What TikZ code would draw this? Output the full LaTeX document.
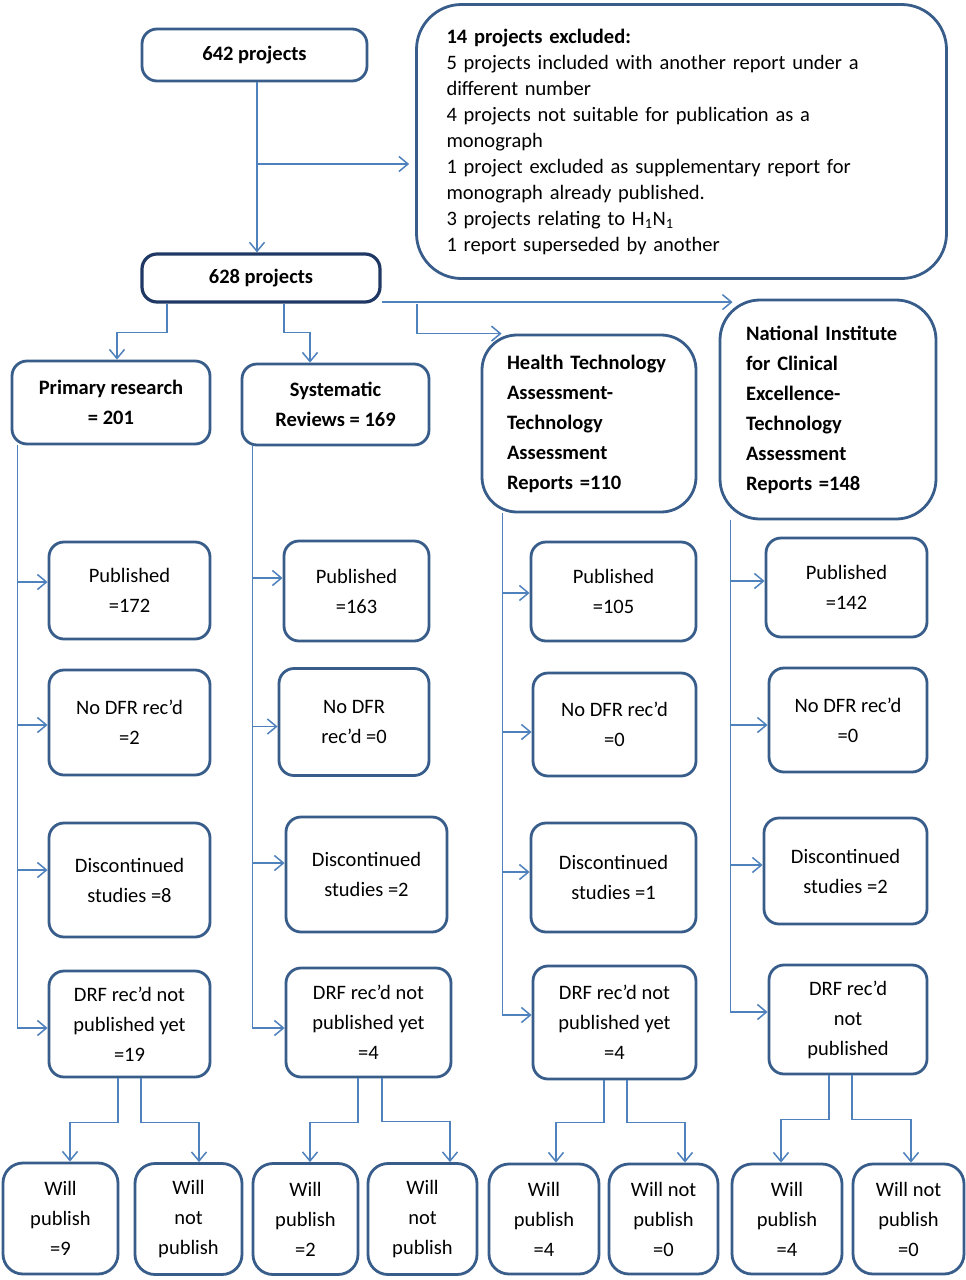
\documentclass[tikz,border=0pt]{standalone}
\usepackage{fontspec}
\setmainfont{Carlito}
\usetikzlibrary{arrows.meta,calc}
\definecolor{bord}{HTML}{385D8A}
\definecolor{lin}{HTML}{4F81BD}
\definecolor{navy}{HTML}{1F3864}
\begin{document}
\begin{tikzpicture}[x=1pt,y=-1pt,
  box/.style={draw=bord, line width=2.8pt, rounded corners=15pt, fill=white, align=center, inner sep=2pt, font=\fontsize{20.5}{30}\selectfont},
  hbox/.style={box, font=\bfseries\fontsize{20.5}{29.5}\selectfont},
  bbox/.style={box, rounded corners=20pt},
  line/.style={draw=lin, line width=1.5pt},
  arr/.style={line, -{Straight Barb[length=9pt,width=15pt]}},
]
\useasboundingbox[fill=white] (0,0) rectangle (966,1280);

% top
\node[hbox, minimum width=225pt, minimum height=52pt] (p642) at (254.5,55) {642 projects};
\node[hbox, draw=navy, line width=3.2pt, minimum width=238pt, minimum height=48pt] (p628) at (261,278) {628 projects};
\node[box, rounded corners=45pt, minimum width=530pt, minimum height=274pt, text width=470pt, align=left,
      font=\fontsize{20.5}{26}\selectfont] (exc) at (681.5,141.5)
 {\textbf{14 projects excluded:}\\
  5 projects included with another report under a\\
  different number\\
  4 projects not suitable for publication as a\\
  monograph\\
  1 project excluded as supplementary report for\\
  monograph already published.\\
  3 projects relating to H\textsubscript{1}N\textsubscript{1}\\
  1 report superseded by another};

% headers
\node[hbox, minimum width=198pt, minimum height=83pt] (pr) at (111,402.5) {Primary research\\= 201};
\node[hbox, minimum width=187pt, minimum height=81pt] (sr) at (335.5,404.5) {Systematic\\Reviews = 169};
\node[hbox, rounded corners=35pt, align=left, text width=164pt, minimum width=214pt, minimum height=177pt, font=\bfseries\fontsize{20.5}{30}\selectfont] (hta) at (589,423.5)
 {Health Technology\\Assessment-\\Technology\\Assessment\\Reports =110};
\node[hbox, rounded corners=40pt, align=left, text width=164pt, minimum width=216pt, minimum height=219pt, font=\bfseries\fontsize{20.5}{30}\selectfont] (nice) at (828,409.5)
 {National Institute\\for Clinical\\Excellence-\\Technology\\Assessment\\Reports =148};

% column 1
\node[box, minimum width=161pt, minimum height=97pt]  (pub1) at (129.5,590.5) {Published\\=172};
\node[box, minimum width=161pt, minimum height=105pt] (nod1) at (129.5,722.5) {No DFR rec’d\\=2};
\node[box, minimum width=161pt, minimum height=114pt] (dis1) at (129.5,880) {Discontinued\\studies =8};
\node[box, minimum width=161pt, minimum height=106pt] (drf1) at (129.5,1024) {DRF rec’d not\\published yet\\=19};
% column 2
\node[box, minimum width=145pt, minimum height=100pt] (pub2) at (356.5,591) {Published\\=163};
\node[box, minimum width=150pt, minimum height=107pt] (nod2) at (354,722) {No DFR\\rec’d =0};
\node[box, minimum width=161pt, minimum height=115pt] (dis2) at (366.5,874.5) {Discontinued\\studies =2};
\node[box, minimum width=165pt, minimum height=109pt] (drf2) at (368.5,1022.5) {DRF rec’d not\\published yet\\=4};
% column 3
\node[box, minimum width=165pt, minimum height=99pt]  (pub3) at (613.5,591.5) {Published\\=105};
\node[box, minimum width=163pt, minimum height=103pt] (nod3) at (614.5,724.5) {No DFR rec’d\\=0};
\node[box, minimum width=165pt, minimum height=109pt] (dis3) at (613.5,877.5) {Discontinued\\studies =1};
\node[box, minimum width=163pt, minimum height=113pt] (drf3) at (614.5,1022.5) {DRF rec’d not\\published yet\\=4};
% column 4
\node[box, minimum width=161pt, minimum height=99pt]  (pub4) at (846.5,587.5) {Published\\=142};
\node[box, minimum width=158pt, minimum height=104pt] (nod4) at (848,720) {No DFR rec’d\\=0};
\node[box, minimum width=163pt, minimum height=106pt] (dis4) at (845.5,871) {Discontinued\\studies =2};
\node[box, minimum width=158pt, minimum height=109pt] (drf4) at (848,1019.5) {DRF rec’d\\not\\published};

% bottom row
\node[bbox, minimum width=115pt, minimum height=111pt] (wp1)  at (60.5,1218.5) {Will\\publish\\=9};
\node[bbox, minimum width=107pt, minimum height=111pt] (wnp1) at (188.5,1219) {Will\\not\\publish};
\node[bbox, minimum width=105pt, minimum height=111pt] (wp2)  at (305.5,1219) {Will\\publish\\=2};
\node[bbox, minimum width=109pt, minimum height=111pt] (wnp2) at (422.5,1219) {Will\\not\\publish};
\node[bbox, minimum width=110pt, minimum height=110pt] (wp3)  at (544,1219) {Will\\publish\\=4};
\node[bbox, minimum width=109pt, minimum height=110pt] (wnp3) at (663.5,1219) {Will not\\publish\\=0};
\node[bbox, minimum width=110pt, minimum height=110pt] (wp4)  at (787,1219) {Will\\publish\\=4};
\node[bbox, minimum width=111pt, minimum height=110pt] (wnp4) at (908.5,1219) {Will not\\publish\\=0};

% top connectors
\draw[arr] ([xshift=2.5pt]p642.south) -- ([xshift=2.5pt]p642.south |- p628.north);
\coordinate (j1) at (257,164);
\draw[arr, shorten >=6pt] (j1) -- (j1 -| exc.west);
\draw[arr] ([xshift=-94pt]p628.south) -- ++(0,29) -| ([xshift=6pt]pr.north);
\draw[arr] ([xshift=23pt]p628.south) -- ++(0,29) -| ([xshift=-25.5pt]sr.north);
\draw[arr] ([xshift=156pt]p628.south) |- ([xshift=21pt]hta.north west);
\coordinate (c628) at ([yshift=1.5pt]p628.south east);
\draw[arr] (c628) -- ($(c628 -| nice.west)+(14,0)$);

% column connectors
\draw[arr] ([xshift=7pt]pr.south west) |- ([yshift=8.5pt]pub1.west);
\draw[arr] ([xshift=7pt]pr.south west) |- ([yshift=-2.5pt]nod1.west);
\draw[arr] ([xshift=7pt]pr.south west) |- ([yshift=10pt]dis1.west);
\draw[arr] ([xshift=7pt]pr.south west) |- ([yshift=-4pt]drf1.west);

\draw[arr] ([xshift=12pt]sr.south west) |- ([yshift=13pt]pub2.west);
\draw[arr] ([xshift=12pt]sr.south west) |- ([yshift=-4.5pt]nod2.west);
\draw[arr] ([xshift=12pt]sr.south west) |- ([yshift=11.5pt]dis2.west);
\draw[arr] ([xshift=12pt]sr.south west) |- ([yshift=-5.5pt]drf2.west);

\draw[arr] ([xshift=22pt]hta.south west) |- ([yshift=-1.5pt]pub3.west);
\draw[arr] ([xshift=22pt]hta.south west) |- ([yshift=-7.5pt]nod3.west);
\draw[arr] ([xshift=22pt]hta.south west) |- ([yshift=5.5pt]dis3.west);
\draw[arr] ([xshift=22pt]hta.south west) |- ([yshift=7.5pt]drf3.west);

\draw[arr] ([xshift=12pt]nice.south west) |- ([yshift=6.5pt]pub4.west);
\draw[arr] ([xshift=12pt]nice.south west) |- ([yshift=-5pt]nod4.west);
\draw[arr] ([xshift=12pt]nice.south west) |- ([yshift=6pt]dis4.west);
\draw[arr] ([xshift=12pt]nice.south west) |- ([yshift=7.5pt]drf4.west);

% bottom branches
\draw[arr] ([xshift=-11.5pt]drf1.south) -- ++(0,44) -| ([xshift=9.5pt]wp1.north);
\draw[arr] ([xshift=11.5pt]drf1.south) -- ++(0,44) -| ([xshift=10.5pt]wnp1.north);
\draw[arr] ([xshift=-10.5pt]drf2.south) -- ++(0,44) -| ([xshift=4.5pt]wp2.north);
\draw[arr] ([xshift=13.5pt]drf2.south) -- ++(0,43) -| ([xshift=27.5pt]wnp2.north);
\draw[arr] ([xshift=-10.5pt]drf3.south) -- ++(0,42) -| ([xshift=12pt]wp3.north);
\draw[arr] ([xshift=12.5pt]drf3.south) -- ++(0,42) -| ([xshift=21.5pt]wnp3.north);
\draw[arr] ([xshift=-19pt]drf4.south) -- ++(0,44) -| ([xshift=-6pt]wp4.north);
\draw[arr] ([xshift=4pt]drf4.south) -- ++(0,44) -| ([xshift=2.5pt]wnp4.north);
\end{tikzpicture}
\end{document}
